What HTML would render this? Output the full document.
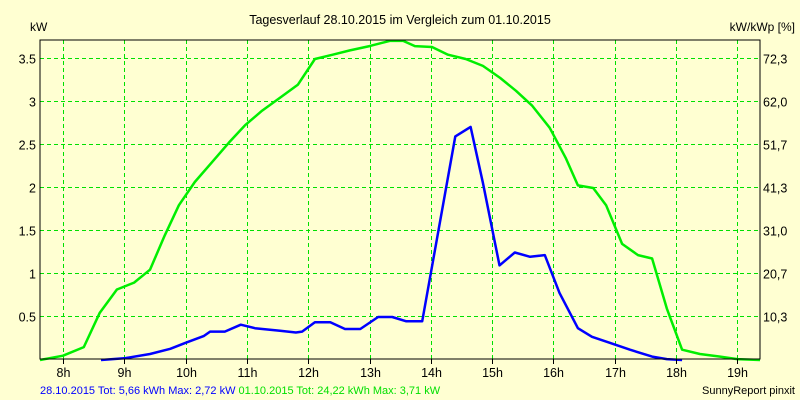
<!DOCTYPE html>
<html><head><meta charset="utf-8"><style>
html,body{margin:0;padding:0;background:#FFFFD2;}
svg{display:block;font-family:"Liberation Sans",sans-serif;}
</style></head><body>
<svg id="chart" width="800" height="400" xmlns="http://www.w3.org/2000/svg">
<rect x="0" y="0" width="800" height="400" fill="#FFFFD2"/>
<text x="400" y="24" font-size="12.5" text-anchor="middle" fill="#000">Tagesverlauf 28.10.2015 im Vergleich zum 01.10.2015</text>
<text x="30" y="31" font-size="12" fill="#000">kW</text>
<text x="795" y="31" font-size="12" text-anchor="end" fill="#000">kW/kWp [%]</text>
<g id="grid"></g>
<g id="series"></g>
<rect x="40" y="40" width="720" height="319" fill="none" stroke="#000" stroke-width="1"/>
<g id="axes"></g>
<text x="40" y="394" font-size="11"><tspan fill="#0000FF">28.10.2015 Tot: 5,66 kWh Max: 2,72 kW</tspan><tspan fill="#00E000"> 01.10.2015 Tot: 24,22 kWh Max: 3,71 kW</tspan></text>
<text x="795" y="394" font-size="11" text-anchor="end" fill="#000">SunnyReport pinxit</text>
</svg>
<script>
const hourTicks=[8,9,10,11,12,13,14,15,16,17,18,19];
const kwTicks=[0.5,1,1.5,2,2.5,3,3.5];
const kwTickLabels=["0.5","1","1.5","2","2.5","3","3.5"];
const pctTickLabels=["10,3","20,7","31,0","41,3","51,7","62,0","72,3"];
const blueTimes=[8.62,9.0,9.42,9.75,10.0,10.3,10.4,10.64,10.9,11.13,11.54,11.8,11.9,12.11,12.36,12.6,12.85,13.14,13.37,13.6,13.86,14.4,14.65,14.85,15.12,15.37,15.62,15.86,16.1,16.4,16.63,16.92,17.25,17.61,17.85,18.1];
const blueValues=[0,0.02,0.07,0.13,0.2,0.28,0.33,0.33,0.41,0.37,0.34,0.32,0.33,0.44,0.44,0.36,0.36,0.5,0.5,0.45,0.45,2.6,2.71,2.06,1.1,1.25,1.2,1.22,0.78,0.37,0.27,0.2,0.12,0.04,0.01,0];
const greenTimes=[7.625,8.0,8.34,8.6,8.88,9.16,9.42,9.66,9.89,10.15,10.43,10.71,10.97,11.25,11.54,11.83,12.11,12.4,12.68,13.0,13.33,13.55,13.74,14.02,14.28,14.57,14.85,15.13,15.39,15.65,15.94,16.2,16.4,16.65,16.86,17.12,17.38,17.61,17.85,18.1,18.39,18.72,19.0,19.37];
const greenValues=[0,0.05,0.15,0.55,0.82,0.9,1.05,1.45,1.8,2.07,2.3,2.53,2.73,2.9,3.05,3.2,3.5,3.55,3.6,3.65,3.71,3.71,3.65,3.64,3.55,3.5,3.42,3.28,3.13,2.96,2.7,2.35,2.03,2.0,1.8,1.35,1.22,1.18,0.6,0.12,0.07,0.04,0.01,0];
const NS="http://www.w3.org/2000/svg";
const L=40,R=760,T=40,B=359;
function xScale(h){return 63+(h-8)*61.3;}
function yScale(v){return 360-v*86;}
const grid=document.getElementById('grid'),axes=document.getElementById('axes'),series=document.getElementById('series');
function mk(tag,attrs,parent){const e=document.createElementNS(NS,tag);for(const k in attrs)e.setAttribute(k,attrs[k]);parent.appendChild(e);return e;}
hourTicks.forEach(h=>{
 const x=Math.round(xScale(h))+0.5;
 const g=mk('line',{x1:x,x2:x,y1:T,y2:B,stroke:'#00E000','stroke-dasharray':'4,3'},grid);
 
 
 const t=mk('line',{x1:x,x2:x,y1:B,y2:B+5,stroke:'#000'},axes);
 
 
 const lb=mk('text',{x:x,y:377,'font-size':12.5,'text-anchor':'middle',fill:'#000'},axes);
 lb.textContent=h+'h';
 
 
});
kwTicks.forEach((v,i)=>{
 const y=Math.round(yScale(v))-0.5;
 const g=mk('line',{x1:L,x2:R,y1:y,y2:y,stroke:'#00E000','stroke-dasharray':'4,3'},grid);
 
 
 const lb=mk('text',{x:36,y:y+5,'font-size':12.5,'text-anchor':'end',fill:'#000'},axes);
 lb.textContent=kwTickLabels[i];
 
 
 const rl=mk('text',{x:763,y:y+5,'font-size':12.5,fill:'#000'},axes);
 rl.textContent=pctTickLabels[i];
 
 
});
function line(times,vals,color,name){
 const pts=times.map((t,i)=>xScale(t).toFixed(1)+','+yScale(vals[i]).toFixed(1)).join(' ');
 const p=mk('polyline',{points:pts,fill:'none',stroke:color,'stroke-width':2.5,'stroke-linejoin':'round'},series);
 
 
}
line(greenTimes,greenValues,'#00EE00','series-01-10-2015');
line(blueTimes,blueValues,'#0000FF','series-28-10-2015');
</script>
</body></html>
